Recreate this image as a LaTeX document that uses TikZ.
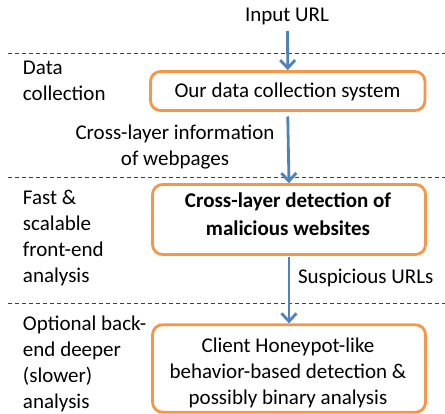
\documentclass[tikz,border=0pt]{standalone}
\usepackage{fontspec}
\setmainfont{Carlito}
\usetikzlibrary{arrows.meta}
\definecolor{boxorange}{HTML}{F79646}
\definecolor{flowblue}{HTML}{4F81BD}
\definecolor{sepgray}{HTML}{404040}
\begin{document}
\begin{tikzpicture}[x=1pt,y=-1pt,
  every node/.style={font=\fontsize{21}{26}\selectfont, inner sep=0pt, outer sep=0pt},
  stage/.style={draw=boxorange, line width=2.8pt, rounded corners=10pt, fill=white},
  flow/.style={draw=flowblue, line width=2.8pt, -{Straight Barb[length=8pt,width=15pt,line width=2.8pt]}},
  sep/.style={draw=sepgray, line width=0.8pt, dash pattern=on 4pt off 3pt},
  phase/.style={anchor=base west, align=left},
  txt/.style={anchor=base, align=center}]
\useasboundingbox (0,0) rectangle (445,414);

% phase separators
\draw[sep] (8,53) -- (445,53);
\draw[sep] (8,177) -- (445,177);
\draw[sep] (8,303) -- (445,303);

% phase labels (anchored at the baseline of the last line)
\node[phase] (p1) at (23,101) {Data\\collection};
\node[phase] (p2) at (23,283) {Fast \&\\scalable\\front-end\\analysis};
\node[phase] (p3) at (23,409) {Optional back-\\end deeper\\(slower)\\analysis};

% stage boxes
\node[stage, minimum width=274.5pt, minimum height=39pt] (s1) at (287.75,91) {};
\node[stage, minimum width=273pt, minimum height=70pt] (s2) at (289,219.5) {};
\node[stage, minimum width=273pt, minimum height=87.5pt] (s3) at (289,368.5) {};

% stage texts
\node[txt] (t1) at (287.5,98) {Our data collection system};
\node[txt, font=\fontsize{21}{28}\selectfont\bfseries] (t2) at (288,236) {Cross-layer detection of\\malicious websites};
\node[txt] (t3) at (288,405) {Client Honeypot-like\\behavior-based detection \&\\possibly binary analysis};

% input and flow labels
\node[txt] (in) at (287,22) {Input URL};
\node[txt] (info) at (175,165.5) {Cross-layer information\\of webpages};
\node[anchor=base west] (susp) at (298,284) {Suspicious URLs};

% flow arrows
\coordinate (src) at (287.5,31);
\draw[flow] (src) -- ([yshift=1.4pt]s1.north);
\draw[flow] ([yshift=-6pt]s1.south) -- ([yshift=1.4pt]s2.north);
\draw[flow] ([yshift=-3pt]s2.south) -- ([yshift=1.4pt]s3.north);
\end{tikzpicture}
\end{document}
